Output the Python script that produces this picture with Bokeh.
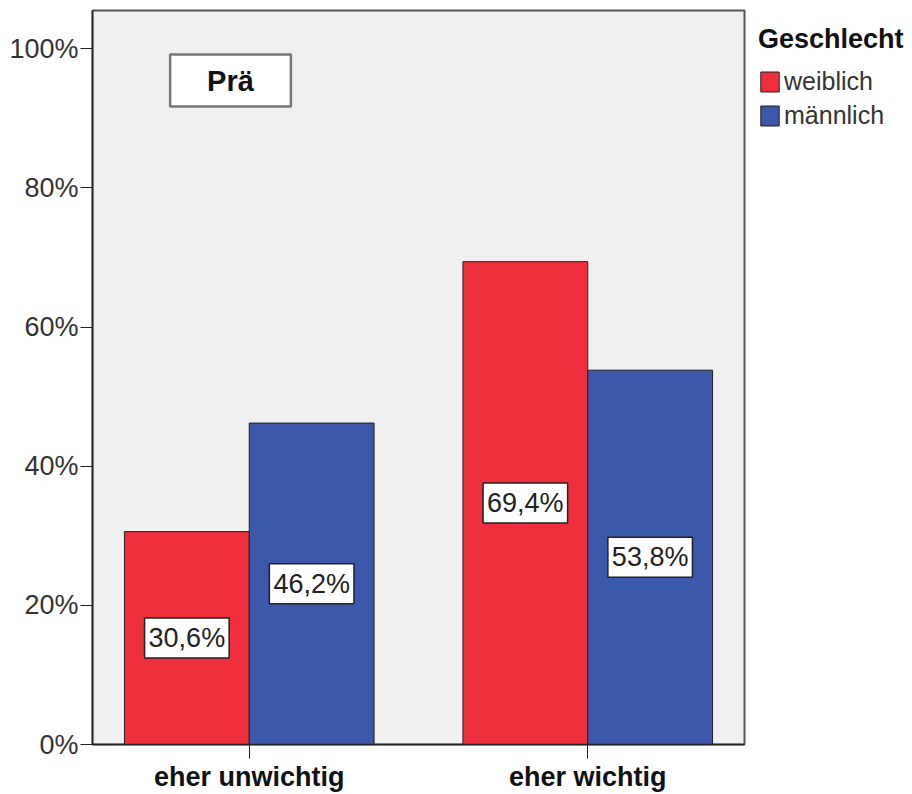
from bokeh.plotting import figure
from bokeh.models import (ColumnDataSource, FactorRange, Range1d, FixedTicker,
                          PrintfTickFormatter, Legend, LegendItem, Label)
from bokeh.core.properties import value
from bokeh.transform import dodge
from bokeh.embed import file_html
from bokeh.resources import INLINE

# ---- data ----
categories = ["eher unwichtig", "eher wichtig"]
weiblich = [30.6, 69.4]
maennlich = [46.2, 53.8]
y_ticks = [0, 20, 40, 60, 80, 100]
legend_title = "Geschlecht"
series_names = ["weiblich", "männlich"]
panel_title = "Prä"

RED = "#ef2f3b"
BLUE = "#3c58aa"
FONT = "Liberation Sans"

def fmt(v):
    return f"{v:.1f}".replace(".", ",") + "%"

src = ColumnDataSource(dict(
    cat=categories,
    w=weiblich,
    m=maennlich,
    w_half=[v / 2 for v in weiblich],
    m_half=[v / 2 for v in maennlich],
    w_lab=[fmt(v) for v in weiblich],
    m_lab=[fmt(v) for v in maennlich],
))

FRAME_W = 652
FRAME_H = 734

p = figure(
    x_range=FactorRange(*categories, factor_padding=0.356,
                        range_padding=0.128, range_padding_units="absolute"),
    y_range=Range1d(0, 105.5),
    frame_width=FRAME_W, frame_height=FRAME_H,
    output_backend="svg", toolbar_location=None,
    min_border_left=92, min_border_top=10, min_border_right=0, min_border_bottom=0,
    background_fill_color="#f0f0f0", border_fill_color="white",
    outline_line_color="#555555", outline_line_width=2,
)

r_w = p.vbar(x=dodge("cat", -0.25, range=p.x_range), top="w", width=0.5, source=src,
             fill_color=RED, line_color="#222222", line_width=1)
r_m = p.vbar(x=dodge("cat", 0.25, range=p.x_range), top="m", width=0.5, source=src,
             fill_color=BLUE, line_color="#222222", line_width=1)

for xo, col, lab in [(-0.25, "w_half", "w_lab"), (0.25, "m_half", "m_lab")]:
    p.text(x=dodge("cat", xo, range=p.x_range), y=col, text=lab, source=src,
           text_align="center", text_baseline="middle",
           text_font=value(FONT), text_font_size="27px", text_color="#222222",
           background_fill_color="white", border_line_color="#222222",
           border_line_width=1.5, padding=(4, 5))

# title box
p.add_layout(Label(x=138, y=FRAME_H - 70, x_units="screen", y_units="screen",
                   text=panel_title, text_align="center", text_baseline="middle",
                   text_font=FONT, text_font_size="29px", text_font_style="bold",
                   text_color="#111111", background_fill_color="white",
                   border_line_color="#777777", border_line_width=2.5,
                   padding=(37, 10)))

# axes
p.xgrid.visible = False
p.ygrid.visible = False

p.yaxis.ticker = FixedTicker(ticks=y_ticks)
p.yaxis.formatter = PrintfTickFormatter(format="%d%%")
p.yaxis.minor_tick_line_color = None
p.yaxis.major_tick_in = 0
p.yaxis.major_tick_out = 12
p.yaxis.major_tick_line_color = "#222222"
p.yaxis.axis_line_color = "#222222"
p.yaxis.axis_line_width = 1.5
p.yaxis.major_label_text_font = FONT
p.yaxis.major_label_text_font_size = "27px"
p.yaxis.major_label_text_color = "#333333"
p.yaxis.major_label_standoff = 2

p.xaxis.major_tick_in = 0
p.xaxis.major_tick_out = 14
p.xaxis.major_tick_line_color = "#222222"
p.xaxis.axis_line_color = "#222222"
p.xaxis.axis_line_width = 1.5
p.xaxis.major_label_text_font = FONT
p.xaxis.major_label_text_font_size = "27px"
p.xaxis.major_label_text_font_style = "bold"
p.xaxis.major_label_text_color = "#111111"
p.xaxis.major_label_standoff = 3

legend = Legend(
    items=[LegendItem(label=series_names[0], renderers=[r_w]),
           LegendItem(label=series_names[1], renderers=[r_m])],
    title=legend_title, location="top_left",
    title_text_font=FONT, title_text_font_size="27px", title_text_font_style="bold",
    title_text_color="#111111", title_standoff=12,
    label_text_font=FONT, label_text_font_size="25px", label_text_color="#333333",
    glyph_width=23, glyph_height=25, label_standoff=3, spacing=5,
    border_line_color=None, background_fill_alpha=0,
    margin=14, padding=14,
)
p.add_layout(legend, "right")

open("out.html", "w").write(file_html(p, INLINE))
